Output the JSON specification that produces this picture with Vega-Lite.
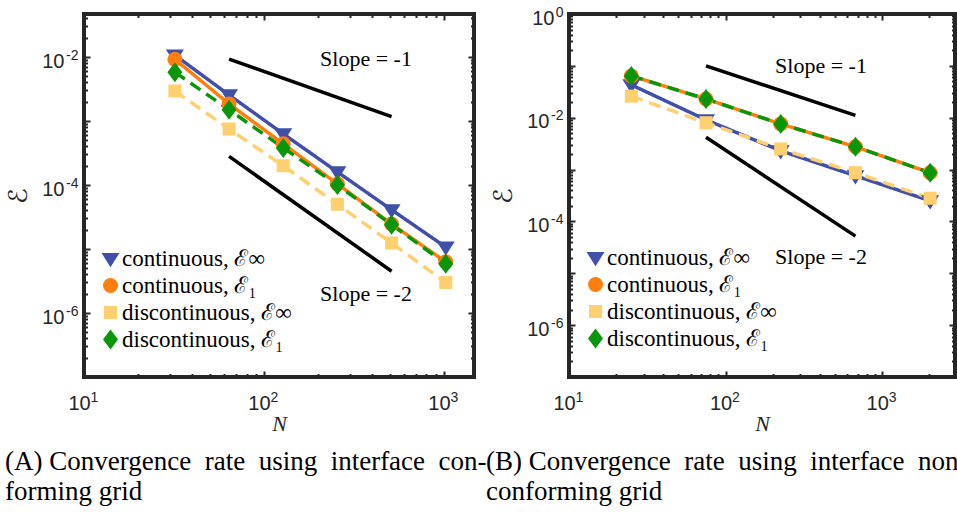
{
  "$schema": "https://vega.github.io/schema/vega-lite/v6.json",
  "background": "white",
  "padding": {"left": 3, "top": 3, "right": 0, "bottom": 0},
  "bounds": "flush",
  "spacing": 95,
  "config": {
    "view": {"stroke": "#262626", "strokeWidth": 4},
    "axis": {"domain": false, "grid": false, "labelColor": "#262626", "tickColor": "#262626", "labelFlush": false, "labelOverlap": false, "labelFont": "Liberation Sans", "labelFontSize": 20},
    "legend": {"title": null, "orient": "none", "labelFont": "Liberation Serif", "labelFontSize": 23, "labelColor": "black", "symbolSize": 225, "rowPadding": 3, "labelOffset": 0, "padding": 0, "symbolStrokeWidth": 0, "labelLimit": 300}
  },
  "resolve": {
    "scale": {"color": "independent", "shape": "independent", "strokeDash": "independent", "x": "independent", "y": "independent"},
    "legend": {"color": "independent", "shape": "independent"}
  },
  "datasets": {
    "left": [
      {"series": "continuous, \u2130\u221e", "N": 32, "E": 0.0107},
      {"series": "continuous, \u2130\u221e", "N": 64, "E": 0.00255},
      {"series": "continuous, \u2130\u221e", "N": 128, "E": 0.00063},
      {"series": "continuous, \u2130\u221e", "N": 256, "E": 0.00016},
      {"series": "continuous, \u2130\u221e", "N": 512, "E": 0.000041},
      {"series": "continuous, \u2130\u221e", "N": 1024, "E": 0.0000107},
      {"series": "continuous, \u2130\u2081", "N": 32, "E": 0.0092},
      {"series": "continuous, \u2130\u2081", "N": 64, "E": 0.00185},
      {"series": "continuous, \u2130\u2081", "N": 128, "E": 0.00044},
      {"series": "continuous, \u2130\u2081", "N": 256, "E": 0.000104},
      {"series": "continuous, \u2130\u2081", "N": 512, "E": 0.0000246},
      {"series": "continuous, \u2130\u2081", "N": 1024, "E": 0.0000063},
      {"series": "discontinuous, \u2130\u221e", "N": 32, "E": 0.00295},
      {"series": "discontinuous, \u2130\u221e", "N": 64, "E": 0.00075},
      {"series": "discontinuous, \u2130\u221e", "N": 128, "E": 0.0002},
      {"series": "discontinuous, \u2130\u221e", "N": 256, "E": 0.00005},
      {"series": "discontinuous, \u2130\u221e", "N": 512, "E": 0.0000124},
      {"series": "discontinuous, \u2130\u221e", "N": 1024, "E": 0.000003},
      {"series": "discontinuous, \u2130\u2081", "N": 32, "E": 0.0058},
      {"series": "discontinuous, \u2130\u2081", "N": 64, "E": 0.0015},
      {"series": "discontinuous, \u2130\u2081", "N": 128, "E": 0.00038},
      {"series": "discontinuous, \u2130\u2081", "N": 256, "E": 0.0001},
      {"series": "discontinuous, \u2130\u2081", "N": 512, "E": 0.000024},
      {"series": "discontinuous, \u2130\u2081", "N": 1024, "E": 0.0000059}
    ],
    "right": [
      {"series": "continuous, \u2130\u221e", "N": 25, "E": 0.043},
      {"series": "continuous, \u2130\u221e", "N": 75, "E": 0.0091},
      {"series": "continuous, \u2130\u221e", "N": 225, "E": 0.0023},
      {"series": "continuous, \u2130\u221e", "N": 675, "E": 0.00076},
      {"series": "continuous, \u2130\u221e", "N": 2025, "E": 0.00025},
      {"series": "continuous, \u2130\u2081", "N": 25, "E": 0.064},
      {"series": "continuous, \u2130\u2081", "N": 75, "E": 0.023},
      {"series": "continuous, \u2130\u2081", "N": 225, "E": 0.0076},
      {"series": "continuous, \u2130\u2081", "N": 675, "E": 0.00275},
      {"series": "continuous, \u2130\u2081", "N": 2025, "E": 0.00087},
      {"series": "discontinuous, \u2130\u221e", "N": 25, "E": 0.026},
      {"series": "discontinuous, \u2130\u221e", "N": 75, "E": 0.008},
      {"series": "discontinuous, \u2130\u221e", "N": 225, "E": 0.0025},
      {"series": "discontinuous, \u2130\u221e", "N": 675, "E": 0.00087},
      {"series": "discontinuous, \u2130\u221e", "N": 2025, "E": 0.00028},
      {"series": "discontinuous, \u2130\u2081", "N": 25, "E": 0.064},
      {"series": "discontinuous, \u2130\u2081", "N": 75, "E": 0.023},
      {"series": "discontinuous, \u2130\u2081", "N": 225, "E": 0.0076},
      {"series": "discontinuous, \u2130\u2081", "N": 675, "E": 0.00275},
      {"series": "discontinuous, \u2130\u2081", "N": 2025, "E": 0.00087}
    ],
    "leftSlopes": [
      {"slope": "-1", "N": 64, "E": 0.0093},
      {"slope": "-1", "N": 512, "E": 0.00117},
      {"slope": "-2", "N": 64, "E": 0.00028},
      {"slope": "-2", "N": 512, "E": 0.0000045}
    ],
    "rightSlopes": [
      {"slope": "-1", "N": 75, "E": 0.1},
      {"slope": "-1", "N": 675, "E": 0.0111},
      {"slope": "-2", "N": 75, "E": 0.0042},
      {"slope": "-2", "N": 675, "E": 0.000052}
    ],
    "leftText": [
      {"label": "Slope = -1", "N": 369, "E": 0.0093},
      {"label": "Slope = -2", "N": 369, "E": 0.000002}
    ],
    "rightText": [
      {"label": "Slope = -1", "N": 407, "E": 0.1},
      {"label": "Slope = -2", "N": 407, "E": 0.000021}
    ]
  },
  "hconcat": [
    {
      "width": 390,
      "height": 363,
      "title": {"text": ["(A) Convergence\u00a0 rate\u00a0 using\u00a0 interface\u00a0 con-", "forming grid"], "orient": "bottom", "anchor": "start", "frame": "group", "dx": -79, "offset": 15, "font": "Liberation Serif", "fontSize": 27, "fontWeight": "normal", "lineHeight": 30, "color": "black"},
      "resolve": {"axis": {"x": "independent", "y": "independent"}},
      "layer": [
        {
          "data": {"name": "left"},
          "mark": {"type": "line", "strokeWidth": 3.5},
          "encoding": {
            "x": {"field": "N", "type": "quantitative", "scale": {"type": "log", "domain": [10, 1470], "nice": false},
              "axis": {"orient": "bottom", "values": [10, 100, 1000], "labelExpr": "'10'", "ticks": false, "labelPadding": 16, "labelOffset": -5, "title": "N", "titleFont": "Liberation Serif", "titleFontStyle": "italic", "titleFontWeight": "normal", "titleFontSize": 22, "titlePadding": 0, "titleColor": "#262626"}},
            "y": {"field": "E", "type": "quantitative", "scale": {"type": "log", "domain": [1e-7, 0.047], "nice": false},
              "axis": {"orient": "left", "values": [1e-6, 0.0001, 0.01], "labelExpr": "'10'", "ticks": false, "labelPadding": 20, "labelOffset": 4, "title": "\u2130", "titleFont": "DejaVu Serif, DejaVu Sans", "titleFontSize": 26, "titleFontWeight": "normal", "titlePadding": 10, "titleColor": "#262626"}},
            "color": {"field": "series", "type": "nominal", "scale": {"domain": ["continuous, \u2130\u221e", "continuous, \u2130\u2081", "discontinuous, \u2130\u221e", "discontinuous, \u2130\u2081"], "range": ["#4050A8", "#FF7F0E", "#FFD070", "#0A960A"]},
              "legend": {"legendX": 15, "legendY": 233, "labelFont": "Liberation Serif", "labelFontSize": 23, "labelOffset": 0, "rowPadding": 3}},
            "strokeDash": {"field": "series", "type": "nominal", "scale": {"domain": ["continuous, \u2130\u221e", "continuous, \u2130\u2081", "discontinuous, \u2130\u221e", "discontinuous, \u2130\u2081"], "range": [[1, 0], [1, 0], [12, 7], [12, 7]]}, "legend": null}
          }
        },
        {
          "data": {"name": "left"},
          "mark": {"type": "point", "filled": true, "opacity": 1, "size": 225, "strokeWidth": 0},
          "encoding": {
            "x": {"field": "N", "type": "quantitative", "scale": {"type": "log", "domain": [10, 1470], "nice": false},
              "axis": {"orient": "bottom", "values": [10, 100, 1000], "labelExpr": "'' + round(log(datum.value)/LN10)", "ticks": false, "labelPadding": 13, "labelOffset": 6, "labelAlign": "left", "labelFontSize": 14, "title": null}},
            "y": {"field": "E", "type": "quantitative", "scale": {"type": "log", "domain": [1e-7, 0.047], "nice": false},
              "axis": {"orient": "left", "values": [1e-6, 0.0001, 0.01], "labelExpr": "'' + round(log(datum.value)/LN10)", "ticks": false, "labelPadding": 6, "labelOffset": -2, "labelAlign": "right", "labelFontSize": 14, "title": null}},
            "color": {"field": "series", "type": "nominal", "scale": {"domain": ["continuous, \u2130\u221e", "continuous, \u2130\u2081", "discontinuous, \u2130\u221e", "discontinuous, \u2130\u2081"], "range": ["#4050A8", "#FF7F0E", "#FFD070", "#0A960A"]},
              "legend": {"legendX": 15, "legendY": 233, "labelFont": "Liberation Serif", "labelFontSize": 23, "labelOffset": 0, "rowPadding": 3}},
            "shape": {"field": "series", "type": "nominal", "scale": {"domain": ["continuous, \u2130\u221e", "continuous, \u2130\u2081", "discontinuous, \u2130\u221e", "discontinuous, \u2130\u2081"], "range": ["M-1.2,-0.75L1.2,-0.75L0,1.15Z", "circle", "M-0.87,-0.87L0.87,-0.87L0.87,0.87L-0.87,0.87Z", "M0,-1.33L1,0L0,1.33L-1,0Z"]},
              "legend": {"legendX": 15, "legendY": 233, "labelFont": "Liberation Serif", "labelFontSize": 23, "labelOffset": 0, "rowPadding": 3}}
          }
        },
        {
          "data": {"name": "leftSlopes"},
          "mark": {"type": "line", "color": "black", "strokeWidth": 3.5},
          "encoding": {
            "x": {"field": "N", "type": "quantitative", "scale": {"type": "log", "domain": [10, 1470], "nice": false},
              "axis": {"orient": "top", "values": [10, 20, 30, 40, 50, 60, 70, 80, 90, 100, 200, 300, 400, 500, 600, 700, 800, 900, 1000], "labels": false, "ticks": true, "tickWidth": 2, "tickSize": {"condition": {"test": "abs(log(datum.value)/LN10 - round(log(datum.value)/LN10)) < 0.001", "value": -6}, "value": -3.5}, "title": null}},
            "y": {"field": "E", "type": "quantitative", "scale": {"type": "log", "domain": [1e-7, 0.047], "nice": false},
              "axis": {"orient": "right", "values": [1e-7, 2e-7, 3e-7, 4e-7, 5e-7, 6e-7, 7e-7, 8e-7, 9e-7, 1e-6, 2e-6, 3e-6, 4e-6, 5e-6, 6e-6, 7e-6, 8e-6, 9e-6, 1e-5, 2e-5, 3e-5, 4e-5, 5e-5, 6e-5, 7e-5, 8e-5, 9e-5, 1e-4, 2e-4, 3e-4, 4e-4, 5e-4, 6e-4, 7e-4, 8e-4, 9e-4, 1e-3, 2e-3, 3e-3, 4e-3, 5e-3, 6e-3, 7e-3, 8e-3, 9e-3, 0.01, 0.02, 0.03, 0.04], "labels": false, "ticks": true, "tickWidth": 2, "tickSize": {"condition": {"test": "abs(log(datum.value)/LN10 - round(log(datum.value)/LN10)) < 0.001", "value": -6}, "value": -3.5}, "title": null}},
            "detail": {"field": "slope"}
          }
        },
        {
          "data": {"name": "leftText"},
          "mark": {"type": "text", "font": "Liberation Serif", "fontSize": 22, "color": "black"},
          "encoding": {
            "x": {"field": "N", "type": "quantitative", "scale": {"type": "log", "domain": [10, 1470], "nice": false},
              "axis": {"orient": "bottom", "values": [10, 20, 30, 40, 50, 60, 70, 80, 90, 100, 200, 300, 400, 500, 600, 700, 800, 900, 1000], "labels": false, "ticks": true, "tickWidth": 2, "tickSize": {"condition": {"test": "abs(log(datum.value)/LN10 - round(log(datum.value)/LN10)) < 0.001", "value": -6}, "value": -3.5}, "title": null}},
            "y": {"field": "E", "type": "quantitative", "scale": {"type": "log", "domain": [1e-7, 0.047], "nice": false},
              "axis": {"orient": "left", "values": [1e-7, 2e-7, 3e-7, 4e-7, 5e-7, 6e-7, 7e-7, 8e-7, 9e-7, 1e-6, 2e-6, 3e-6, 4e-6, 5e-6, 6e-6, 7e-6, 8e-6, 9e-6, 1e-5, 2e-5, 3e-5, 4e-5, 5e-5, 6e-5, 7e-5, 8e-5, 9e-5, 1e-4, 2e-4, 3e-4, 4e-4, 5e-4, 6e-4, 7e-4, 8e-4, 9e-4, 1e-3, 2e-3, 3e-3, 4e-3, 5e-3, 6e-3, 7e-3, 8e-3, 9e-3, 0.01, 0.02, 0.03, 0.04], "labels": false, "ticks": true, "tickWidth": 2, "tickSize": {"condition": {"test": "abs(log(datum.value)/LN10 - round(log(datum.value)/LN10)) < 0.001", "value": -6}, "value": -3.5}, "title": null}},
            "text": {"field": "label"}
          }
        }
      ]
    },
    {
      "width": 386,
      "height": 363,
      "title": {"text": ["(B) Convergence\u00a0 rate\u00a0 using\u00a0 interface\u00a0 non-", "conforming grid"], "orient": "bottom", "anchor": "start", "frame": "group", "dx": -83, "offset": 15, "font": "Liberation Serif", "fontSize": 27, "fontWeight": "normal", "lineHeight": 30, "color": "black"},
      "resolve": {"axis": {"x": "independent", "y": "independent"}},
      "layer": [
        {
          "data": {"name": "right"},
          "mark": {"type": "line", "strokeWidth": 3.5},
          "encoding": {
            "x": {"field": "N", "type": "quantitative", "scale": {"type": "log", "domain": [10, 2920], "nice": false},
              "axis": {"orient": "bottom", "values": [10, 100, 1000], "labelExpr": "'10'", "ticks": false, "labelPadding": 16, "labelOffset": -5, "title": "N", "titleFont": "Liberation Serif", "titleFontStyle": "italic", "titleFontWeight": "normal", "titleFontSize": 22, "titlePadding": 0, "titleColor": "#262626"}},
            "y": {"field": "E", "type": "quantitative", "scale": {"type": "log", "domain": [1e-7, 1], "nice": false},
              "axis": {"orient": "left", "values": [1e-6, 0.0001, 0.01, 1], "labelExpr": "'10'", "ticks": false, "labelPadding": {"condition": {"test": "datum.value > 0.5", "value": 15}, "value": 20}, "labelOffset": 4, "title": "\u2130", "titleFont": "DejaVu Serif, DejaVu Sans", "titleFontSize": 26, "titleFontWeight": "normal", "titlePadding": 10, "titleColor": "#262626"}},
            "color": {"field": "series", "type": "nominal", "scale": {"domain": ["continuous, \u2130\u221e", "continuous, \u2130\u2081", "discontinuous, \u2130\u221e", "discontinuous, \u2130\u2081"], "range": ["#4050A8", "#FF7F0E", "#FFD070", "#0A960A"]},
              "legend": {"legendX": 15, "legendY": 232, "labelFont": "Liberation Serif", "labelFontSize": 23, "labelOffset": 0, "rowPadding": 3}},
            "strokeDash": {"field": "series", "type": "nominal", "scale": {"domain": ["continuous, \u2130\u221e", "continuous, \u2130\u2081", "discontinuous, \u2130\u221e", "discontinuous, \u2130\u2081"], "range": [[1, 0], [1, 0], [12, 7], [12, 7]]}, "legend": null}
          }
        },
        {
          "data": {"name": "right"},
          "mark": {"type": "point", "filled": true, "opacity": 1, "size": 225, "strokeWidth": 0},
          "encoding": {
            "x": {"field": "N", "type": "quantitative", "scale": {"type": "log", "domain": [10, 2920], "nice": false},
              "axis": {"orient": "bottom", "values": [10, 100, 1000], "labelExpr": "'' + round(log(datum.value)/LN10)", "ticks": false, "labelPadding": 13, "labelOffset": 6, "labelAlign": "left", "labelFontSize": 14, "title": null}},
            "y": {"field": "E", "type": "quantitative", "scale": {"type": "log", "domain": [1e-7, 1], "nice": false},
              "axis": {"orient": "left", "values": [1e-6, 0.0001, 0.01, 1], "labelExpr": "'' + round(log(datum.value)/LN10)", "ticks": false, "labelPadding": 6, "labelOffset": -2, "labelAlign": "right", "labelFontSize": 14, "title": null}},
            "color": {"field": "series", "type": "nominal", "scale": {"domain": ["continuous, \u2130\u221e", "continuous, \u2130\u2081", "discontinuous, \u2130\u221e", "discontinuous, \u2130\u2081"], "range": ["#4050A8", "#FF7F0E", "#FFD070", "#0A960A"]},
              "legend": {"legendX": 15, "legendY": 232, "labelFont": "Liberation Serif", "labelFontSize": 23, "labelOffset": 0, "rowPadding": 3}},
            "shape": {"field": "series", "type": "nominal", "scale": {"domain": ["continuous, \u2130\u221e", "continuous, \u2130\u2081", "discontinuous, \u2130\u221e", "discontinuous, \u2130\u2081"], "range": ["M-1.2,-0.75L1.2,-0.75L0,1.15Z", "circle", "M-0.87,-0.87L0.87,-0.87L0.87,0.87L-0.87,0.87Z", "M0,-1.33L1,0L0,1.33L-1,0Z"]},
              "legend": {"legendX": 15, "legendY": 232, "labelFont": "Liberation Serif", "labelFontSize": 23, "labelOffset": 0, "rowPadding": 3}}
          }
        },
        {
          "data": {"name": "rightSlopes"},
          "mark": {"type": "line", "color": "black", "strokeWidth": 3.5},
          "encoding": {
            "x": {"field": "N", "type": "quantitative", "scale": {"type": "log", "domain": [10, 2920], "nice": false},
              "axis": {"orient": "top", "values": [10, 20, 30, 40, 50, 60, 70, 80, 90, 100, 200, 300, 400, 500, 600, 700, 800, 900, 1000, 2000], "labels": false, "ticks": true, "tickWidth": 2, "tickSize": {"condition": {"test": "abs(log(datum.value)/LN10 - round(log(datum.value)/LN10)) < 0.001", "value": -6}, "value": -3.5}, "title": null}},
            "y": {"field": "E", "type": "quantitative", "scale": {"type": "log", "domain": [1e-7, 1], "nice": false},
              "axis": {"orient": "right", "values": [1e-7, 2e-7, 3e-7, 4e-7, 5e-7, 6e-7, 7e-7, 8e-7, 9e-7, 1e-6, 2e-6, 3e-6, 4e-6, 5e-6, 6e-6, 7e-6, 8e-6, 9e-6, 1e-5, 2e-5, 3e-5, 4e-5, 5e-5, 6e-5, 7e-5, 8e-5, 9e-5, 1e-4, 2e-4, 3e-4, 4e-4, 5e-4, 6e-4, 7e-4, 8e-4, 9e-4, 1e-3, 2e-3, 3e-3, 4e-3, 5e-3, 6e-3, 7e-3, 8e-3, 9e-3, 0.01, 0.02, 0.03, 0.04, 0.05, 0.06, 0.07, 0.08, 0.09, 0.1, 0.2, 0.3, 0.4, 0.5, 0.6, 0.7, 0.8, 0.9, 1], "labels": false, "ticks": true, "tickWidth": 2, "tickSize": {"condition": {"test": "abs(log(datum.value)/LN10 - round(log(datum.value)/LN10)) < 0.001", "value": -6}, "value": -3.5}, "title": null}},
            "detail": {"field": "slope"}
          }
        },
        {
          "data": {"name": "rightText"},
          "mark": {"type": "text", "font": "Liberation Serif", "fontSize": 22, "color": "black"},
          "encoding": {
            "x": {"field": "N", "type": "quantitative", "scale": {"type": "log", "domain": [10, 2920], "nice": false},
              "axis": {"orient": "bottom", "values": [10, 20, 30, 40, 50, 60, 70, 80, 90, 100, 200, 300, 400, 500, 600, 700, 800, 900, 1000, 2000], "labels": false, "ticks": true, "tickWidth": 2, "tickSize": {"condition": {"test": "abs(log(datum.value)/LN10 - round(log(datum.value)/LN10)) < 0.001", "value": -6}, "value": -3.5}, "title": null}},
            "y": {"field": "E", "type": "quantitative", "scale": {"type": "log", "domain": [1e-7, 1], "nice": false},
              "axis": {"orient": "left", "values": [1e-7, 2e-7, 3e-7, 4e-7, 5e-7, 6e-7, 7e-7, 8e-7, 9e-7, 1e-6, 2e-6, 3e-6, 4e-6, 5e-6, 6e-6, 7e-6, 8e-6, 9e-6, 1e-5, 2e-5, 3e-5, 4e-5, 5e-5, 6e-5, 7e-5, 8e-5, 9e-5, 1e-4, 2e-4, 3e-4, 4e-4, 5e-4, 6e-4, 7e-4, 8e-4, 9e-4, 1e-3, 2e-3, 3e-3, 4e-3, 5e-3, 6e-3, 7e-3, 8e-3, 9e-3, 0.01, 0.02, 0.03, 0.04, 0.05, 0.06, 0.07, 0.08, 0.09, 0.1, 0.2, 0.3, 0.4, 0.5, 0.6, 0.7, 0.8, 0.9, 1], "labels": false, "ticks": true, "tickWidth": 2, "tickSize": {"condition": {"test": "abs(log(datum.value)/LN10 - round(log(datum.value)/LN10)) < 0.001", "value": -6}, "value": -3.5}, "title": null}},
            "text": {"field": "label"}
          }
        }
      ]
    }
  ]
}
